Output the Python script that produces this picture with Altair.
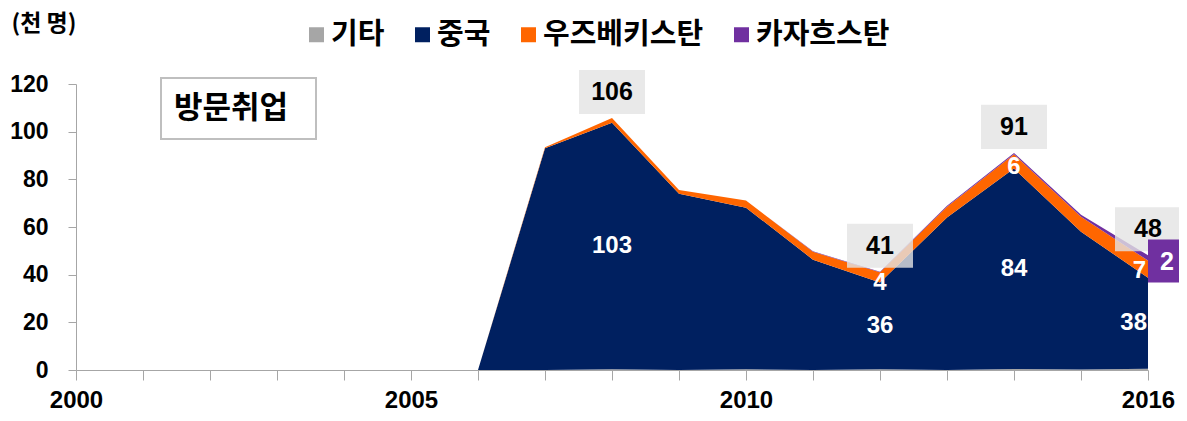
import altair as alt
import pandas as pd

years = list(range(2006, 2017))
series = ["기타", "중국", "우즈베키스탄", "카자흐스탄"]
colors = ["#a6a6a6", "#002060", "#ff6600", "#7030a0"]

other = [0, 0, 0.3, 0, 0.3, 0, 0.3, 0, 0.4, 0.2, 0.5]
china = [0, 93, 103.4, 74, 67.8, 46.3, 36.4, 64, 84.1, 57.8, 38.2]
uzbek = [0, 0.5, 2.0, 1.5, 3, 3.3, 4.3, 4.5, 6, 6.3, 7.2]
kazakh = [0, 0, 0, 0, 0, 0.2, 0.2, 0.4, 0.6, 0.8, 2.2]

total_label_years = [2008, 2012, 2014, 2016]
china_label_years = [2008, 2012, 2014]
china_edge_years = [2016]
uzbek_label_years = [2012, 2014]
uzbek_edge_years = [2016]
kazakh_label_years = [2016]

x_tick_values = list(range(2000, 2017))
x_label_values = [2000, 2005, 2010, 2016]
y_tick_values = [0, 20, 40, 60, 80, 100, 120]

vals = {"기타": other, "중국": china, "우즈베키스탄": uzbek, "카자흐스탄": kazakh}
rows = []
for i, s in enumerate(series):
    for yr, v in zip(years, vals[s]):
        rows.append({"year": yr, "series": s, "order": i, "value": v})
df = pd.DataFrame(rows)

lab = pd.DataFrame({"year": years, "other": other, "china": china,
                    "uzbek": uzbek, "kazakh": kazakh})
lab["total"] = lab.other + lab.china + lab.uzbek + lab.kazakh
lab["china_mid"] = lab.other + lab.china / 2
lab["uzbek_mid"] = lab.other + lab.china + lab.uzbek / 2
lab["kazakh_mid"] = lab.other + lab.china + lab.uzbek + lab.kazakh / 2
lab["total_txt"] = lab.total.round().astype(int).astype(str)
lab["china_txt"] = lab.china.round().astype(int).astype(str)
lab["uzbek_txt"] = lab.uzbek.round().astype(int).astype(str)
lab["kazakh_txt"] = lab.kazakh.round().astype(int).astype(str)

KFONT = "Noto Sans CJK KR"
NFONT = "Liberation Sans"

label_expr = "indexof([" + ",".join(str(v) for v in x_label_values) + "], datum.value) >= 0 ? datum.label : ''"

xenc = alt.X("year:Q",
             scale=alt.Scale(domain=[2000, 2016], nice=False, zero=False),
             axis=alt.Axis(title=None, values=x_tick_values,
                           labelExpr=label_expr,
                           format="d", tickSize=10, labelPadding=8,
                           labelFont=NFONT, labelFontSize=24, labelFontWeight="bold",
                           labelColor="black", labelOverlap=False, labelFlush=False,
                           domainColor="#a6a6a6", tickColor="#a6a6a6"))

yscale = alt.Scale(domain=[0, 120], nice=False)

area = alt.Chart(df).mark_area(interpolate="linear").encode(
    x=xenc,
    y=alt.Y("value:Q", stack="zero", scale=yscale,
            axis=alt.Axis(title="(천  명)", titleAngle=0, titleAlign="left",
                          titleBaseline="alphabetic", titleX=-65, titleY=-54,
                          titleFont=KFONT, titleFontSize=23, titleFontWeight="bold",
                          titleColor="black", titleLimit=200,
                          values=y_tick_values, tickSize=8, labelPadding=20,
                          labelFont=NFONT, labelFontSize=23, labelFontWeight="bold",
                          labelColor="black",
                          domainColor="#a6a6a6", tickColor="#a6a6a6")),
    color=alt.Color("series:N", scale=alt.Scale(domain=series, range=colors),
                    legend=alt.Legend(orient="none", legendX=226, legendY=-64,
                                      direction="horizontal", title=None,
                                      symbolType="square", symbolSize=225,
                                      symbolStrokeWidth=0,
                                      labelFont=KFONT, labelFontSize=29,
                                      labelFontWeight="bold", labelColor="black",
                                      labelLimit=400,
                                      columnPadding=23, labelOffset=0)),
    order=alt.Order("order:Q", sort="ascending"),
)

base = alt.Chart(lab)
xq = alt.X("year:Q")

tot = base.transform_filter(alt.FieldOneOfPredicate(field="year", oneOf=total_label_years))
box_shape = "M-1,-0.667L1,-0.667L1,0.667L-1,0.667Z"
tot_box = tot.mark_point(shape=box_shape, size=4356, filled=True, fill="#e4e4e4",
                         opacity=0.8, strokeWidth=0, yOffset=-26).encode(
    x=xq, y=alt.Y("total:Q"))
tot_txt = tot.mark_text(dy=-26, font=NFONT, fontSize=25, fontWeight="bold",
                        color="black").encode(x=xq, y=alt.Y("total:Q"), text="total_txt:N")

ch = base.transform_filter(alt.FieldOneOfPredicate(field="year", oneOf=china_label_years))
ch_txt = ch.mark_text(font=NFONT, fontSize=24, fontWeight="bold", color="white").encode(
    x=xq, y=alt.Y("china_mid:Q"), text="china_txt:N")
che = base.transform_filter(alt.FieldOneOfPredicate(field="year", oneOf=china_edge_years))
che_txt = che.mark_text(font=NFONT, fontSize=24, fontWeight="bold", color="white",
                        align="right", dx=-1).encode(
    x=xq, y=alt.Y("china_mid:Q"), text="china_txt:N")

uz = base.transform_filter(alt.FieldOneOfPredicate(field="year", oneOf=uzbek_label_years))
uz_txt = uz.mark_text(font=NFONT, fontSize=24, fontWeight="bold", color="white", dy=6).encode(
    x=xq, y=alt.Y("uzbek_mid:Q"), text="uzbek_txt:N")
uze = base.transform_filter(alt.FieldOneOfPredicate(field="year", oneOf=uzbek_edge_years))
uze_txt = uze.mark_text(font=NFONT, fontSize=24, fontWeight="bold", color="white",
                        align="right", dx=-2, dy=2).encode(
    x=xq, y=alt.Y("uzbek_mid:Q"), text="uzbek_txt:N")

kz = base.transform_filter(alt.FieldOneOfPredicate(field="year", oneOf=kazakh_label_years))
kz_shape = "M-0.744,-1L0.744,-1L0.744,1L-0.744,1Z"
kz_box = kz.mark_point(shape=kz_shape, size=1849, filled=True, fill="#7030a0",
                       opacity=1, strokeWidth=0, xOffset=16, yOffset=3).encode(
    x=xq, y=alt.Y("kazakh_mid:Q"))
kz_txt = kz.mark_text(font=NFONT, fontSize=25, fontWeight="bold", color="white",
                      dx=19, dy=4).encode(
    x=xq, y=alt.Y("kazakh_mid:Q"), text="kazakh_txt:N")

note = alt.Chart(pd.DataFrame({"t": ["방문취업"]}))
note_box = note.mark_rect(fill="white", stroke="#bfbfbf", strokeWidth=2).encode(
    x=alt.value(85), x2=alt.value(240), y=alt.value(-6), y2=alt.value(55))
note_txt = note.mark_text(font=KFONT, fontSize=31, fontWeight="bold", color="black").encode(
    x=alt.value(155), y=alt.value(25), text="t:N")

chart = alt.layer(area, note_box, note_txt, tot_box, tot_txt, ch_txt, che_txt,
                  uz_txt, uze_txt, kz_box, kz_txt).properties(
    width=1072, height=286,
    padding={"left": 68, "top": 76, "right": 31, "bottom": 43},
    autosize=alt.AutoSizeParams(type="none"),
).configure_view(stroke=None).configure_axis(grid=False)

chart.save("out.html", embed_options={"renderer": "svg", "actions": False})
